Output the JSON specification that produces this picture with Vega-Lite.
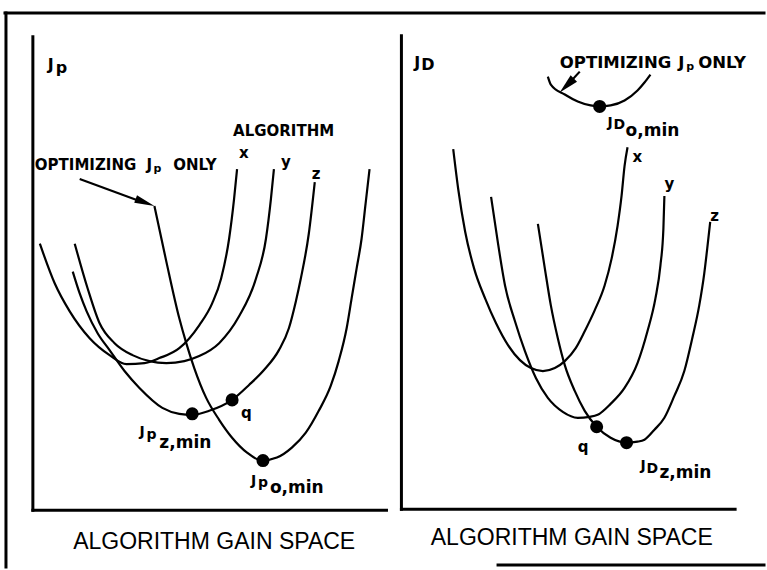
{
  "$schema": "https://vega.github.io/schema/vega-lite/v6.json",
  "autosize": {"type": "fit", "contains": "padding"},
  "width": 767,
  "height": 570,
  "padding": 0,
  "background": "white",
  "config": {"view": {"stroke": null}},
  "datasets": {
    "rules": [
      {"x": 0.5, "y": 55.7, "x2": 76.7, "y2": 55.7},
      {"x": 0.6, "y": 55.7, "x2": 0.6, "y2": 0},
      {"x": 50.0, "y": 0.2, "x2": 76.7, "y2": 0.2},
      {"x": 3.3, "y": 53.3, "x2": 3.3, "y2": 5.7},
      {"x": 3.3, "y": 5.7, "x2": 38.8, "y2": 5.7},
      {"x": 40.3, "y": 53.4, "x2": 40.3, "y2": 5.8},
      {"x": 40.3, "y": 5.8, "x2": 73.8, "y2": 5.8}
    ],
    "curves": [
      {"c": "Lx", "i": 0, "gx": 4.0, "gy": 32.5},
      {"c": "Lx", "i": 1, "gx": 5.5, "gy": 28.5},
      {"c": "Lx", "i": 2, "gx": 7.0, "gy": 25.7},
      {"c": "Lx", "i": 3, "gx": 9.0, "gy": 23.0},
      {"c": "Lx", "i": 4, "gx": 11.0, "gy": 21.3},
      {"c": "Lx", "i": 5, "gx": 12.7, "gy": 20.4},
      {"c": "Lx", "i": 6, "gx": 14.5, "gy": 20.5},
      {"c": "Lx", "i": 7, "gx": 16.0, "gy": 21.0},
      {"c": "Lx", "i": 8, "gx": 18.0, "gy": 22.0},
      {"c": "Lx", "i": 9, "gx": 20.0, "gy": 24.3},
      {"c": "Lx", "i": 10, "gx": 21.3, "gy": 26.5},
      {"c": "Lx", "i": 11, "gx": 22.2, "gy": 29.0},
      {"c": "Lx", "i": 12, "gx": 23.0, "gy": 33.0},
      {"c": "Lx", "i": 13, "gx": 23.5, "gy": 37.0},
      {"c": "Lx", "i": 14, "gx": 23.8, "gy": 40.0},

      {"c": "Ly", "i": 0, "gx": 7.5, "gy": 32.5},
      {"c": "Ly", "i": 1, "gx": 8.8, "gy": 28.0},
      {"c": "Ly", "i": 2, "gx": 10.0, "gy": 24.5},
      {"c": "Ly", "i": 3, "gx": 11.5, "gy": 22.5},
      {"c": "Ly", "i": 4, "gx": 13.3, "gy": 21.3},
      {"c": "Ly", "i": 5, "gx": 15.0, "gy": 20.7},
      {"c": "Ly", "i": 6, "gx": 16.7, "gy": 20.5},
      {"c": "Ly", "i": 7, "gx": 18.5, "gy": 20.7},
      {"c": "Ly", "i": 8, "gx": 20.0, "gy": 21.2},
      {"c": "Ly", "i": 9, "gx": 22.0, "gy": 22.5},
      {"c": "Ly", "i": 10, "gx": 24.0, "gy": 25.2},
      {"c": "Ly", "i": 11, "gx": 25.7, "gy": 29.0},
      {"c": "Ly", "i": 12, "gx": 26.7, "gy": 33.0},
      {"c": "Ly", "i": 13, "gx": 27.2, "gy": 37.0},
      {"c": "Ly", "i": 14, "gx": 27.5, "gy": 40.0},

      {"c": "Lz", "i": 0, "gx": 7.3, "gy": 29.7},
      {"c": "Lz", "i": 1, "gx": 8.0, "gy": 27.5},
      {"c": "Lz", "i": 2, "gx": 8.7, "gy": 25.7},
      {"c": "Lz", "i": 3, "gx": 9.8, "gy": 23.5},
      {"c": "Lz", "i": 4, "gx": 11.0, "gy": 21.8},
      {"c": "Lz", "i": 5, "gx": 12.5, "gy": 19.7},
      {"c": "Lz", "i": 6, "gx": 14.0, "gy": 18.0},
      {"c": "Lz", "i": 7, "gx": 16.3, "gy": 16.0},
      {"c": "Lz", "i": 8, "gx": 18.0, "gy": 15.4},
      {"c": "Lz", "i": 9, "gx": 19.3, "gy": 15.3},
      {"c": "Lz", "i": 10, "gx": 21.0, "gy": 15.7},
      {"c": "Lz", "i": 11, "gx": 23.3, "gy": 16.8},
      {"c": "Lz", "i": 12, "gx": 25.0, "gy": 18.3},
      {"c": "Lz", "i": 13, "gx": 26.5, "gy": 19.8},
      {"c": "Lz", "i": 14, "gx": 28.0, "gy": 21.8},
      {"c": "Lz", "i": 15, "gx": 29.0, "gy": 24.0},
      {"c": "Lz", "i": 16, "gx": 29.7, "gy": 26.7},
      {"c": "Lz", "i": 17, "gx": 30.2, "gy": 29.0},
      {"c": "Lz", "i": 18, "gx": 31.0, "gy": 33.5},
      {"c": "Lz", "i": 19, "gx": 31.6, "gy": 38.7},

      {"c": "Lo", "i": 0, "gx": 15.5, "gy": 36.3},
      {"c": "Lo", "i": 1, "gx": 16.7, "gy": 30.7},
      {"c": "Lo", "i": 2, "gx": 18.0, "gy": 25.0},
      {"c": "Lo", "i": 3, "gx": 18.7, "gy": 22.5},
      {"c": "Lo", "i": 4, "gx": 19.5, "gy": 20.0},
      {"c": "Lo", "i": 5, "gx": 20.7, "gy": 17.0},
      {"c": "Lo", "i": 6, "gx": 22.0, "gy": 14.8},
      {"c": "Lo", "i": 7, "gx": 23.3, "gy": 13.0},
      {"c": "Lo", "i": 8, "gx": 24.8, "gy": 11.5},
      {"c": "Lo", "i": 9, "gx": 26.3, "gy": 10.7},
      {"c": "Lo", "i": 10, "gx": 27.8, "gy": 11.0},
      {"c": "Lo", "i": 11, "gx": 29.3, "gy": 12.0},
      {"c": "Lo", "i": 12, "gx": 30.7, "gy": 13.5},
      {"c": "Lo", "i": 13, "gx": 32.0, "gy": 15.7},
      {"c": "Lo", "i": 14, "gx": 33.2, "gy": 18.2},
      {"c": "Lo", "i": 15, "gx": 34.0, "gy": 20.7},
      {"c": "Lo", "i": 16, "gx": 34.8, "gy": 24.0},
      {"c": "Lo", "i": 17, "gx": 35.3, "gy": 27.0},
      {"c": "Lo", "i": 18, "gx": 35.8, "gy": 30.0},
      {"c": "Lo", "i": 19, "gx": 36.3, "gy": 33.0},
      {"c": "Lo", "i": 20, "gx": 36.7, "gy": 36.5},
      {"c": "Lo", "i": 21, "gx": 37.1, "gy": 40.0},

      {"c": "Ro", "i": 0, "gx": 55.0, "gy": 49.3},
      {"c": "Ro", "i": 1, "gx": 55.3, "gy": 48.5},
      {"c": "Ro", "i": 2, "gx": 56.7, "gy": 47.5},
      {"c": "Ro", "i": 3, "gx": 58.0, "gy": 46.8},
      {"c": "Ro", "i": 4, "gx": 59.3, "gy": 46.4},
      {"c": "Ro", "i": 5, "gx": 60.2, "gy": 46.3},
      {"c": "Ro", "i": 6, "gx": 61.3, "gy": 46.4},
      {"c": "Ro", "i": 7, "gx": 62.7, "gy": 46.9},
      {"c": "Ro", "i": 8, "gx": 64.0, "gy": 47.9},
      {"c": "Ro", "i": 9, "gx": 64.7, "gy": 48.7},
      {"c": "Ro", "i": 10, "gx": 65.3, "gy": 49.5},

      {"c": "Rx", "i": 0, "gx": 45.5, "gy": 42.0},
      {"c": "Rx", "i": 1, "gx": 46.0, "gy": 38.0},
      {"c": "Rx", "i": 2, "gx": 46.7, "gy": 33.7},
      {"c": "Rx", "i": 3, "gx": 47.6, "gy": 30.0},
      {"c": "Rx", "i": 4, "gx": 48.7, "gy": 27.0},
      {"c": "Rx", "i": 5, "gx": 49.8, "gy": 24.5},
      {"c": "Rx", "i": 6, "gx": 51.0, "gy": 22.3},
      {"c": "Rx", "i": 7, "gx": 52.2, "gy": 20.8},
      {"c": "Rx", "i": 8, "gx": 53.3, "gy": 20.0},
      {"c": "Rx", "i": 9, "gx": 54.5, "gy": 19.7},
      {"c": "Rx", "i": 10, "gx": 55.7, "gy": 20.0},
      {"c": "Rx", "i": 11, "gx": 56.7, "gy": 20.7},
      {"c": "Rx", "i": 12, "gx": 57.8, "gy": 22.0},
      {"c": "Rx", "i": 13, "gx": 58.7, "gy": 23.7},
      {"c": "Rx", "i": 14, "gx": 59.7, "gy": 25.8},
      {"c": "Rx", "i": 15, "gx": 60.7, "gy": 28.3},
      {"c": "Rx", "i": 16, "gx": 61.4, "gy": 31.0},
      {"c": "Rx", "i": 17, "gx": 62.0, "gy": 34.3},
      {"c": "Rx", "i": 18, "gx": 62.4, "gy": 37.3},
      {"c": "Rx", "i": 19, "gx": 62.7, "gy": 40.3},
      {"c": "Rx", "i": 20, "gx": 63.0, "gy": 42.2},

      {"c": "Ry", "i": 0, "gx": 49.3, "gy": 37.2},
      {"c": "Ry", "i": 1, "gx": 50.0, "gy": 32.5},
      {"c": "Ry", "i": 2, "gx": 50.7, "gy": 28.3},
      {"c": "Ry", "i": 3, "gx": 51.7, "gy": 24.7},
      {"c": "Ry", "i": 4, "gx": 52.7, "gy": 21.7},
      {"c": "Ry", "i": 5, "gx": 53.8, "gy": 19.0},
      {"c": "Ry", "i": 6, "gx": 55.0, "gy": 17.0},
      {"c": "Ry", "i": 7, "gx": 56.5, "gy": 15.6},
      {"c": "Ry", "i": 8, "gx": 58.0, "gy": 15.0},
      {"c": "Ry", "i": 9, "gx": 59.2, "gy": 15.1},
      {"c": "Ry", "i": 10, "gx": 60.0, "gy": 15.3},
      {"c": "Ry", "i": 11, "gx": 61.3, "gy": 16.4},
      {"c": "Ry", "i": 12, "gx": 62.7, "gy": 18.0},
      {"c": "Ry", "i": 13, "gx": 64.0, "gy": 20.5},
      {"c": "Ry", "i": 14, "gx": 65.0, "gy": 23.7},
      {"c": "Ry", "i": 15, "gx": 65.8, "gy": 27.0},
      {"c": "Ry", "i": 16, "gx": 66.3, "gy": 30.3},
      {"c": "Ry", "i": 17, "gx": 66.6, "gy": 34.0},
      {"c": "Ry", "i": 18, "gx": 66.7, "gy": 37.3},

      {"c": "Rz", "i": 0, "gx": 54.0, "gy": 34.5},
      {"c": "Rz", "i": 1, "gx": 54.7, "gy": 30.0},
      {"c": "Rz", "i": 2, "gx": 55.3, "gy": 26.3},
      {"c": "Rz", "i": 3, "gx": 56.0, "gy": 23.0},
      {"c": "Rz", "i": 4, "gx": 56.7, "gy": 20.3},
      {"c": "Rz", "i": 5, "gx": 57.7, "gy": 17.7},
      {"c": "Rz", "i": 6, "gx": 58.7, "gy": 15.7},
      {"c": "Rz", "i": 7, "gx": 59.9, "gy": 14.1},
      {"c": "Rz", "i": 8, "gx": 61.3, "gy": 13.0},
      {"c": "Rz", "i": 9, "gx": 62.9, "gy": 12.5},
      {"c": "Rz", "i": 10, "gx": 64.0, "gy": 12.6},
      {"c": "Rz", "i": 11, "gx": 64.7, "gy": 12.8},
      {"c": "Rz", "i": 12, "gx": 65.7, "gy": 13.8},
      {"c": "Rz", "i": 13, "gx": 66.7, "gy": 15.0},
      {"c": "Rz", "i": 14, "gx": 67.7, "gy": 17.2},
      {"c": "Rz", "i": 15, "gx": 68.7, "gy": 19.7},
      {"c": "Rz", "i": 16, "gx": 69.5, "gy": 23.0},
      {"c": "Rz", "i": 17, "gx": 70.2, "gy": 26.3},
      {"c": "Rz", "i": 18, "gx": 70.7, "gy": 29.5},
      {"c": "Rz", "i": 19, "gx": 71.0, "gy": 32.0},
      {"c": "Rz", "i": 20, "gx": 71.3, "gy": 34.7}
    ],
    "arrows": [
      {"a": "L", "i": 0, "gx": 8.0, "gy": 39.0},
      {"a": "L", "i": 1, "gx": 14.0, "gy": 36.8},
      {"a": "R", "i": 0, "gx": 58.2, "gy": 49.8},
      {"a": "R", "i": 1, "gx": 57.2, "gy": 48.7}
    ],
    "heads": [
      {"a": "L", "gx": 14.56, "gy": 36.64},
      {"a": "R", "gx": 56.9, "gy": 48.4}
    ],
    "dots": [
      {"name": "Jp z,min", "gx": 19.3, "gy": 15.4},
      {"name": "q left", "gx": 23.3, "gy": 16.8},
      {"name": "Jp o,min", "gx": 26.4, "gy": 10.7},
      {"name": "JD o,min", "gx": 60.2, "gy": 46.3},
      {"name": "q right", "gx": 59.9, "gy": 14.1},
      {"name": "JD z,min", "gx": 62.9, "gy": 12.5}
    ],
    "boldText": [
      {"t": "ALGORITHM", "gx": 23.4, "gy": 43.3},
      {"t": "OPTIMIZING", "gx": 3.5, "gy": 39.9},
      {"t": "J", "gx": 14.7, "gy": 39.9},
      {"t": "ONLY", "gx": 17.4, "gy": 39.9},
      {"t": "x", "gx": 24.0, "gy": 41.1},
      {"t": "y", "gx": 28.2, "gy": 40.2},
      {"t": "z", "gx": 31.3, "gy": 39.0},
      {"t": "x", "gx": 63.5, "gy": 40.7},
      {"t": "y", "gx": 66.7, "gy": 38.0},
      {"t": "z", "gx": 71.3, "gy": 34.8},
      {"t": "q", "gx": 24.2, "gy": 15.0},
      {"t": "q", "gx": 58.0, "gy": 11.6}
    ],
    "boldTextRight": [
      {"t": "OPTIMIZING", "gx": 56.2, "gy": 50.2},
      {"t": "J", "gx": 68.1, "gy": 50.2},
      {"t": "ONLY", "gx": 70.1, "gy": 50.2}
    ],
    "subText": [
      {"t": "p", "gx": 15.4, "gy": 39.7},
      {"t": "p", "gx": 68.9, "gy": 50.0}
    ],
    "axisSym": [
      {"t": "J", "gx": 4.8, "gy": 50.0},
      {"t": "p", "gx": 5.6, "gy": 49.7},
      {"t": "J", "gx": 41.6, "gy": 50.2},
      {"t": "D", "gx": 42.3, "gy": 50.0}
    ],
    "minSym": [
      {"t": "J", "gx": 14.0, "gy": 13.2},
      {"t": "p", "gx": 14.7, "gy": 12.9},
      {"t": "J", "gx": 25.2, "gy": 8.2},
      {"t": "p", "gx": 25.9, "gy": 8.0},
      {"t": "J", "gx": 61.0, "gy": 44.2},
      {"t": "D", "gx": 61.6, "gy": 44.0},
      {"t": "J", "gx": 64.3, "gy": 9.8},
      {"t": "D", "gx": 64.9, "gy": 9.5}
    ],
    "minText": [
      {"t": "z,min", "gx": 16.0, "gy": 12.0},
      {"t": "o,min", "gx": 27.1, "gy": 7.4},
      {"t": "o,min", "gx": 62.8, "gy": 43.3},
      {"t": "z,min", "gx": 66.2, "gy": 8.9}
    ],
    "titles": [
      {"t": "ALGORITHM GAIN SPACE", "gx": 21.5, "gy": 1.8},
      {"t": "ALGORITHM GAIN SPACE", "gx": 57.4, "gy": 2.2}
    ]
  },
  "encoding": {
    "x": {"field": "gx", "type": "quantitative", "scale": {"domain": [0, 76.7], "nice": false, "zero": false}, "axis": null},
    "y": {"field": "gy", "type": "quantitative", "scale": {"domain": [0, 57], "nice": false, "zero": false}, "axis": null}
  },
  "layer": [
    {
      "data": {"name": "rules"},
      "mark": {"type": "rule", "strokeWidth": 3, "strokeCap": "square", "color": "black"},
      "encoding": {
        "x": {"field": "x", "type": "quantitative"},
        "y": {"field": "y", "type": "quantitative"},
        "x2": {"field": "x2"},
        "y2": {"field": "y2"}
      }
    },
    {
      "data": {"name": "curves"},
      "mark": {"type": "line", "interpolate": "monotone", "strokeWidth": 2.2, "color": "black"},
      "encoding": {
        "detail": {"field": "c"},
        "order": {"field": "i", "type": "quantitative"}
      }
    },
    {
      "data": {"name": "arrows"},
      "mark": {"type": "line", "strokeWidth": 2.2, "color": "black"},
      "encoding": {
        "detail": {"field": "a"},
        "order": {"field": "i", "type": "quantitative"}
      }
    },
    {
      "data": {"name": "heads"},
      "transform": [{"filter": "datum.a === 'L'"}],
      "mark": {"type": "point", "filled": true, "opacity": 1, "color": "black", "shape": "M1,0L-1,-0.4L-1,0.4Z", "size": 400, "angle": 20},
      "encoding": {}
    },
    {
      "data": {"name": "heads"},
      "transform": [{"filter": "datum.a === 'R'"}],
      "mark": {"type": "point", "filled": true, "opacity": 1, "color": "black", "shape": "M1,0L-1,-0.45L-1,0.45Z", "size": 400, "angle": 135},
      "encoding": {}
    },
    {
      "data": {"name": "dots"},
      "mark": {"type": "point", "filled": true, "opacity": 1, "color": "black", "shape": "circle", "size": 170},
      "encoding": {}
    },
    {
      "data": {"name": "boldText"},
      "mark": {"type": "text", "align": "left", "baseline": "alphabetic", "font": "DejaVu Sans", "fontWeight": "bold", "fontSize": 15, "color": "black"},
      "encoding": {"text": {"field": "t"}}
    },
    {
      "data": {"name": "boldTextRight"},
      "mark": {"type": "text", "align": "left", "baseline": "alphabetic", "font": "DejaVu Sans", "fontWeight": "bold", "fontSize": 16.5, "color": "black"},
      "encoding": {"text": {"field": "t"}}
    },
    {
      "data": {"name": "subText"},
      "mark": {"type": "text", "align": "left", "baseline": "alphabetic", "font": "DejaVu Sans", "fontWeight": "bold", "fontSize": 11, "color": "black"},
      "encoding": {"text": {"field": "t"}}
    },
    {
      "data": {"name": "axisSym"},
      "mark": {"type": "text", "align": "left", "baseline": "alphabetic", "font": "DejaVu Sans", "fontWeight": "bold", "fontSize": 16, "color": "black"},
      "encoding": {"text": {"field": "t"}}
    },
    {
      "data": {"name": "minSym"},
      "mark": {"type": "text", "align": "left", "baseline": "alphabetic", "font": "DejaVu Sans", "fontWeight": "bold", "fontSize": 14, "color": "black"},
      "encoding": {"text": {"field": "t"}}
    },
    {
      "data": {"name": "minText"},
      "mark": {"type": "text", "align": "left", "baseline": "alphabetic", "font": "DejaVu Sans", "fontWeight": "bold", "fontSize": 17, "color": "black"},
      "encoding": {"text": {"field": "t"}}
    },
    {
      "data": {"name": "titles"},
      "mark": {"type": "text", "align": "center", "baseline": "alphabetic", "font": "Liberation Sans", "fontSize": 23, "color": "black"},
      "encoding": {"text": {"field": "t"}}
    }
  ]
}
